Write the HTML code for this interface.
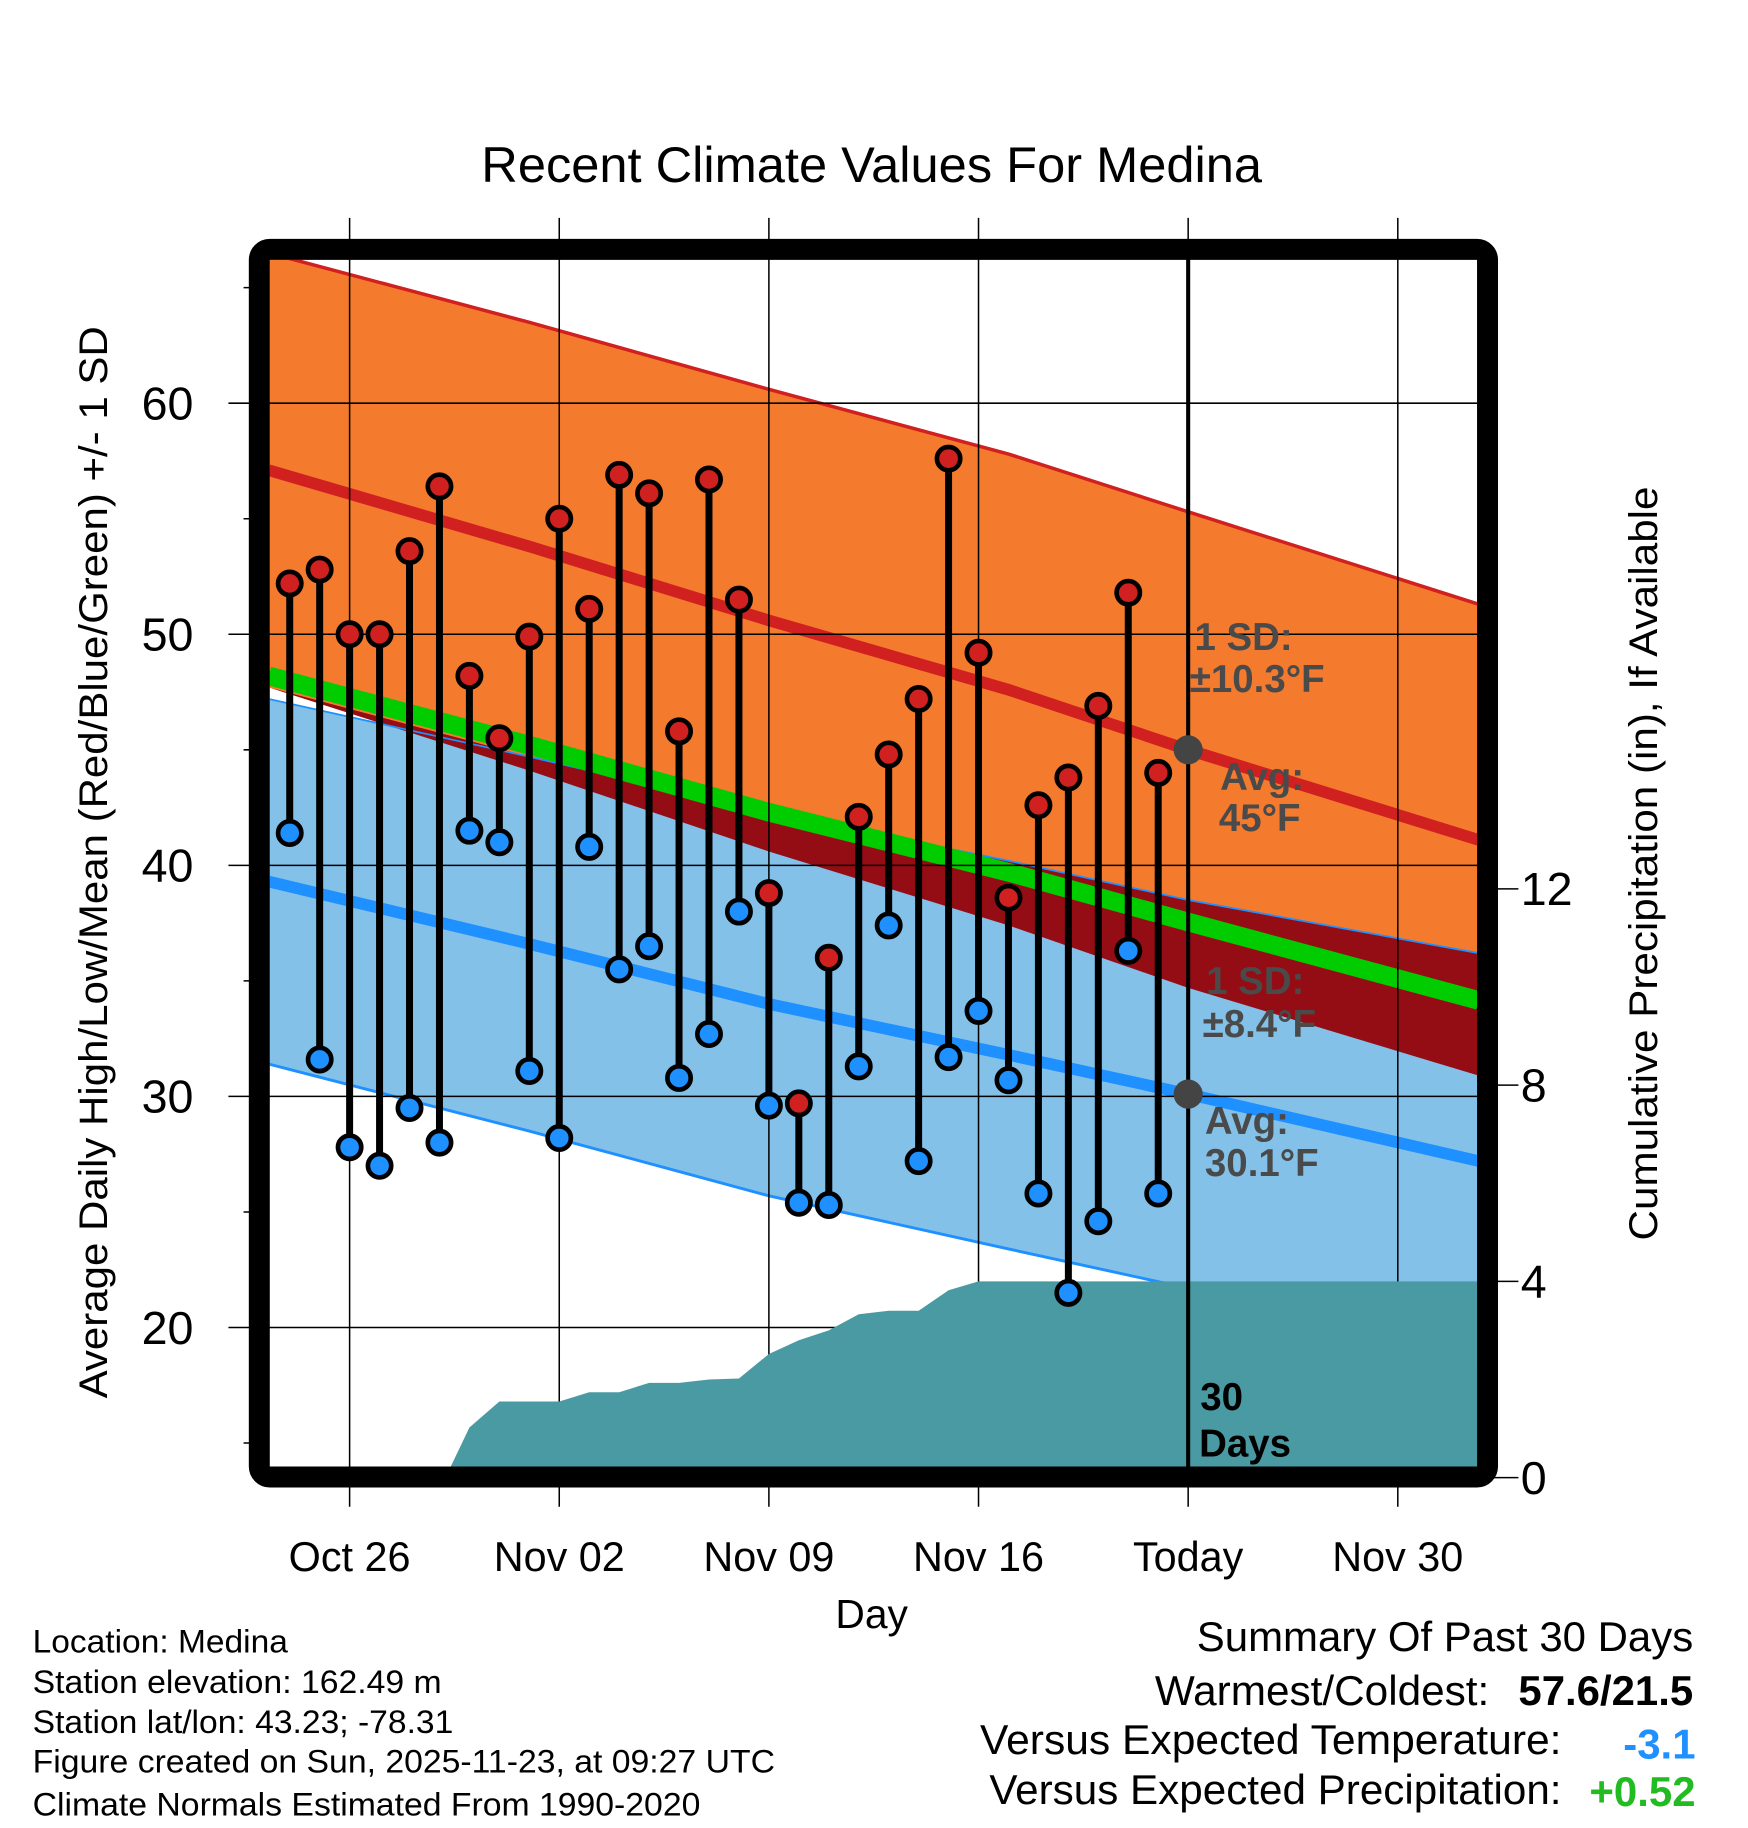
<!DOCTYPE html>
<html><head><meta charset="utf-8"><style>
html,body{margin:0;padding:0;background:#fff;}
svg{display:block;font-family:"Liberation Sans",Arial,sans-serif;}
</style></head><body>
<svg id="chart" width="1748" height="1828" viewBox="0 0 1500 1568.7" xmlns="http://www.w3.org/2000/svg">
<text x="748" y="156" font-size="43" text-anchor="middle" textLength="670" lengthAdjust="spacingAndGlyphs">Recent Climate Values For Medina</text>
<g id="plot"></g>
<g id="axes"></g>
<text x="748" y="1397" font-size="35" text-anchor="middle">Day</text>
<text transform="translate(92,740) rotate(-90)" font-size="34" text-anchor="middle" textLength="920" lengthAdjust="spacingAndGlyphs">Average Daily High/Low/Mean (Red/Blue/Green) +/- 1 SD</text>
<text transform="translate(1422,741) rotate(-90)" font-size="34" text-anchor="middle" textLength="647" lengthAdjust="spacingAndGlyphs">Cumulative Precipitation (in), If Available</text>
<g font-size="28">
<text x="28" y="1418" textLength="219" lengthAdjust="spacingAndGlyphs">Location: Medina</text>
<text x="28" y="1453" textLength="351" lengthAdjust="spacingAndGlyphs">Station elevation: 162.49 m</text>
<text x="28" y="1487" textLength="361" lengthAdjust="spacingAndGlyphs">Station lat/lon: 43.23; -78.31</text>
<text x="28" y="1521" textLength="637" lengthAdjust="spacingAndGlyphs">Figure created on Sun, 2025-11-23, at 09:27 UTC</text>
<text x="28" y="1558" textLength="573" lengthAdjust="spacingAndGlyphs">Climate Normals Estimated From 1990-2020</text>
</g>
<g font-size="36" text-anchor="end">
<text x="1453" y="1417" textLength="426" lengthAdjust="spacingAndGlyphs">Summary Of Past 30 Days</text>
<text x="1278" y="1463" textLength="287" lengthAdjust="spacingAndGlyphs">Warmest/Coldest:</text>
<text x="1453" y="1463" font-weight="bold" textLength="150" lengthAdjust="spacingAndGlyphs">57.6/21.5</text>
<text x="1340" y="1505" textLength="499" lengthAdjust="spacingAndGlyphs">Versus Expected Temperature:</text>
<text x="1455" y="1509" font-weight="bold" fill="#1e90ff">-3.1</text>
<text x="1340" y="1548" textLength="491" lengthAdjust="spacingAndGlyphs">Versus Expected Precipitation:</text>
<text x="1455" y="1550" font-weight="bold" fill="#22bb22">+0.52</text>
</g>
</svg>
<script>
const days=[-2,-1,0,1,2,3,4,5,6,7,8,9,10,11,12,13,14,15,16,17,18,19,20,21,22,23,24,25,26,27];
const highs=[52.2,52.8,50.0,50.0,53.6,56.4,48.2,45.5,49.9,55.0,51.1,56.9,56.1,45.8,56.7,51.5,38.8,29.7,36.0,42.1,44.8,47.2,57.6,49.2,38.6,42.6,43.8,46.9,51.8,44.0];
const lows=[41.4,31.6,27.8,27.0,29.5,28.0,41.5,41.0,31.1,28.2,40.8,35.5,36.5,30.8,32.7,38.0,29.6,25.4,25.3,31.3,37.4,27.2,31.7,33.7,30.7,25.8,21.5,24.6,36.3,25.8];
const normDays=[-2.7,6,14,22,28,37.7];
const normHigh=[57.1,53.8,50.6,47.6,45.0,41.1];
const normLow=[39.3,36.6,34.0,31.8,30.1,27.2];
const sdHigh=[9.4,9.7,10.0,10.2,10.3,10.2];
const sdLow=[7.9,8.1,8.3,8.4,8.4,9.0];
const precipDays=[3.2,4,5,6,7,8,9,10,11,12,13,14,15,16,17,18,19,20,21,22,27,37.7];
const precip=[0,1.02,1.55,1.55,1.55,1.74,1.74,1.93,1.93,2.0,2.02,2.52,2.8,3.0,3.33,3.4,3.4,3.82,4.0,4.0,4.0,4.0];
const xTickDays=[0,7,14,21,28,35];
const xTickLabels=["Oct 26","Nov 02","Nov 09","Nov 16","Today","Nov 30"];
const yTicks=[20,30,40,50,60];
const y2Ticks=[0,4,8,12];

const L=231.5,R=1267.5,T=223,B=1259;
const x=d=>300+d*25.7;
const y=v=>346+(60-v)*19.83;
const y2=p=>1268-p*42.1;
const NS="http://www.w3.org/2000/svg";
const plot=document.getElementById('plot'), axes=document.getElementById('axes');
function mk(tag,attrs,parent){const e=document.createElementNS(NS,tag);for(const k in attrs)e.setAttribute(k,attrs[k]);parent.appendChild(e);return e;}
const pts=(arr,f)=>normDays.map((d,i)=>x(d)+','+y(f(i))).join(' ');
const defs=mk('defs',{},plot);
const cp=mk('clipPath',{id:'clip'},defs);
mk('rect',{x:L,y:T,width:R-L,height:B-T},cp);
const g=mk('g',{'clip-path':'url(#clip)'},plot);
function band(fTop,fBot,fill){
  const top=normDays.map((d,i)=>x(d)+','+y(fTop(i)));
  const bot=normDays.map((d,i)=>x(d)+','+y(fBot(i))).reverse();
  return mk('polygon',{points:top.concat(bot).join(' '),fill:fill},g);
}
let e;
e=band(i=>normHigh[i]+sdHigh[i],i=>normHigh[i]-sdHigh[i],'#f47a2e');

e=band(i=>normLow[i]+sdLow[i],i=>normLow[i]-sdLow[i],'#83c1e8');

e=band(i=>Math.max(normLow[i]+sdLow[i],normHigh[i]-sdHigh[i]),i=>normHigh[i]-sdHigh[i],'#950d14');

e=mk('polyline',{points:pts(0,i=>normHigh[i]+sdHigh[i]),fill:'none',stroke:'#d02020','stroke-width':3},g);

e=mk('polyline',{points:pts(0,i=>normLow[i]+sdLow[i]),fill:'none',stroke:'#1e90ff','stroke-width':1.5},g);

e=mk('polyline',{points:pts(0,i=>normLow[i]-sdLow[i]),fill:'none',stroke:'#1e90ff','stroke-width':2.5},g);

e=mk('polyline',{points:pts(0,i=>(normHigh[i]+normLow[i])/2),fill:'none',stroke:'#00cc00','stroke-width':16},g);

e=mk('polyline',{points:pts(0,i=>normHigh[i]),fill:'none',stroke:'#d02020','stroke-width':10},g);

e=mk('polyline',{points:pts(0,i=>normLow[i]),fill:'none',stroke:'#1e90ff','stroke-width':10},g);

xTickDays.forEach((d,i)=>{
  e=mk('line',{x1:x(d),x2:x(d),y1:187,y2:1293,stroke:'#000','stroke-width':1.3},plot);
  
  e=mk('text',{x:x(d),y:1348,'font-size':35.5,'text-anchor':'middle'},axes);
  e.textContent=xTickLabels[i];
  
});
yTicks.forEach(v=>{
  e=mk('line',{x1:196,x2:R,y1:y(v),y2:y(v),stroke:'#000','stroke-width':1.3},plot);
  
  e=mk('text',{x:166,y:y(v)+14,'font-size':40,'text-anchor':'end'},axes);
  e.textContent=v;
  
});
for(let v=15;v<=65;v+=5){ if(v%10===0)continue;
  e=mk('line',{x1:209,x2:224,y1:y(v),y2:y(v),stroke:'#000','stroke-width':1.3},axes);
  
}
y2Ticks.forEach(p=>{
  e=mk('line',{x1:1276,x2:1303,y1:y2(p),y2:y2(p),stroke:'#000','stroke-width':1.3},axes);
  
  e=mk('text',{x:1305,y:y2(p)+14,'font-size':40},axes);
  e.textContent=p;
  
});
const g2=mk('g',{'clip-path':'url(#clip)'},plot);
const pp=precipDays.map((d,i)=>x(d)+','+y2(precip[i]));
pp.push(x(precipDays[precipDays.length-1])+','+1270, x(precipDays[0])+','+1270);
e=mk('polygon',{points:pp.join(' '),fill:'#4a9aa3'},g2);

e=mk('line',{x1:x(28),x2:x(28),y1:214,y2:1262,stroke:'#000','stroke-width':3.5},plot);

days.forEach((d,i)=>{
  e=mk('line',{x1:x(d),x2:x(d),y1:y(highs[i]),y2:y(lows[i]),stroke:'#000','stroke-width':6},plot);
  
});
days.forEach((d,i)=>{
  e=mk('circle',{cx:x(d),cy:y(highs[i]),r:10,fill:'#d02020',stroke:'#000','stroke-width':4},plot);
  
  e=mk('circle',{cx:x(d),cy:y(lows[i]),r:10,fill:'#1e90ff',stroke:'#000','stroke-width':4},plot);
  
});
e=mk('circle',{cx:x(28),cy:y(normHigh[4]),r:12.5,fill:'#444'},plot);

e=mk('circle',{cx:x(28),cy:y(normLow[4]),r:12.5,fill:'#444'},plot);

e=mk('rect',{x:222.5,y:214,width:1054,height:1053.5,rx:9,fill:'none',stroke:'#000','stroke-width':18},plot);

const ann=[["1 SD:",1025,558,'#4a4a4a'],["±10.3°F",1021,594,'#4a4a4a'],["Avg:",1047,678,'#4a4a4a'],["45°F",1046,713,'#4a4a4a'],
["1 SD:",1035,853,'#4a4a4a'],["±8.4°F",1032,890,'#4a4a4a'],["Avg:",1034,973,'#4a4a4a'],["30.1°F",1034,1009,'#4a4a4a'],
["30",1030,1210,'#000'],["Days",1029,1250,'#000']];
ann.forEach(a=>{
  e=mk('text',{x:a[1],y:a[2],'font-size':33,'font-weight':'bold',fill:a[3]},plot);
  e.textContent=a[0];
  
});
</script>
</body></html>
